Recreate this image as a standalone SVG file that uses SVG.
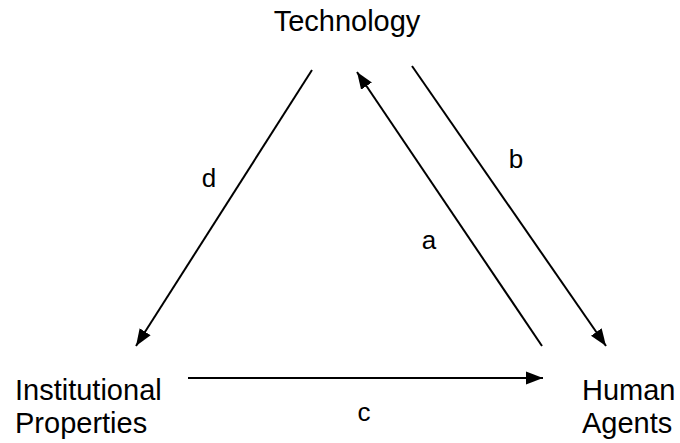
<svg xmlns="http://www.w3.org/2000/svg" width="680" height="443" viewBox="0 0 680 443">
  <style>
    .node { font-family: "Liberation Sans", Arial, Helvetica, sans-serif; font-size: 29px; fill: #000; }
    .lbl { font-family: "Liberation Sans", Arial, Helvetica, sans-serif; font-size: 26px; fill: #000; }
    .edge { stroke: #000; stroke-width: 2; fill: none; marker-end: url(#arrow); }
  </style>
  <defs>
    <marker id="arrow" markerUnits="userSpaceOnUse" markerWidth="18" markerHeight="14" refX="17" refY="7" orient="auto">
      <path d="M0,0.5 L17,7 L0,13.5 Z" fill="#000"/>
    </marker>
  </defs>
  <rect width="680" height="443" fill="#fff"/>
  <g id="connectors">
    <g id="edge-d"><line class="edge" x1="312" y1="70" x2="136" y2="346"/><text class="lbl" x="209" y="187" text-anchor="middle">d</text></g>
    <g id="edge-a"><line class="edge" x1="542" y1="346" x2="357" y2="72"/><text class="lbl" x="429" y="249" text-anchor="middle">a</text></g>
    <g id="edge-b"><line class="edge" x1="412" y1="66" x2="606" y2="346"/><text class="lbl" x="516" y="168" text-anchor="middle">b</text></g>
    <g id="edge-c"><line class="edge" x1="188" y1="378" x2="543" y2="378"/><text class="lbl" x="364" y="421" text-anchor="middle">c</text></g>
  </g>
  <g id="node-technology"><text class="node" x="347" y="31" text-anchor="middle">Technology</text></g>
  <g id="node-institutional"><text class="node" x="15" y="400">Institutional</text><text class="node" x="15" y="433">Properties</text></g>
  <g id="node-human"><text class="node" x="582" y="400">Human</text><text class="node" x="582" y="433">Agents</text></g>
</svg>
